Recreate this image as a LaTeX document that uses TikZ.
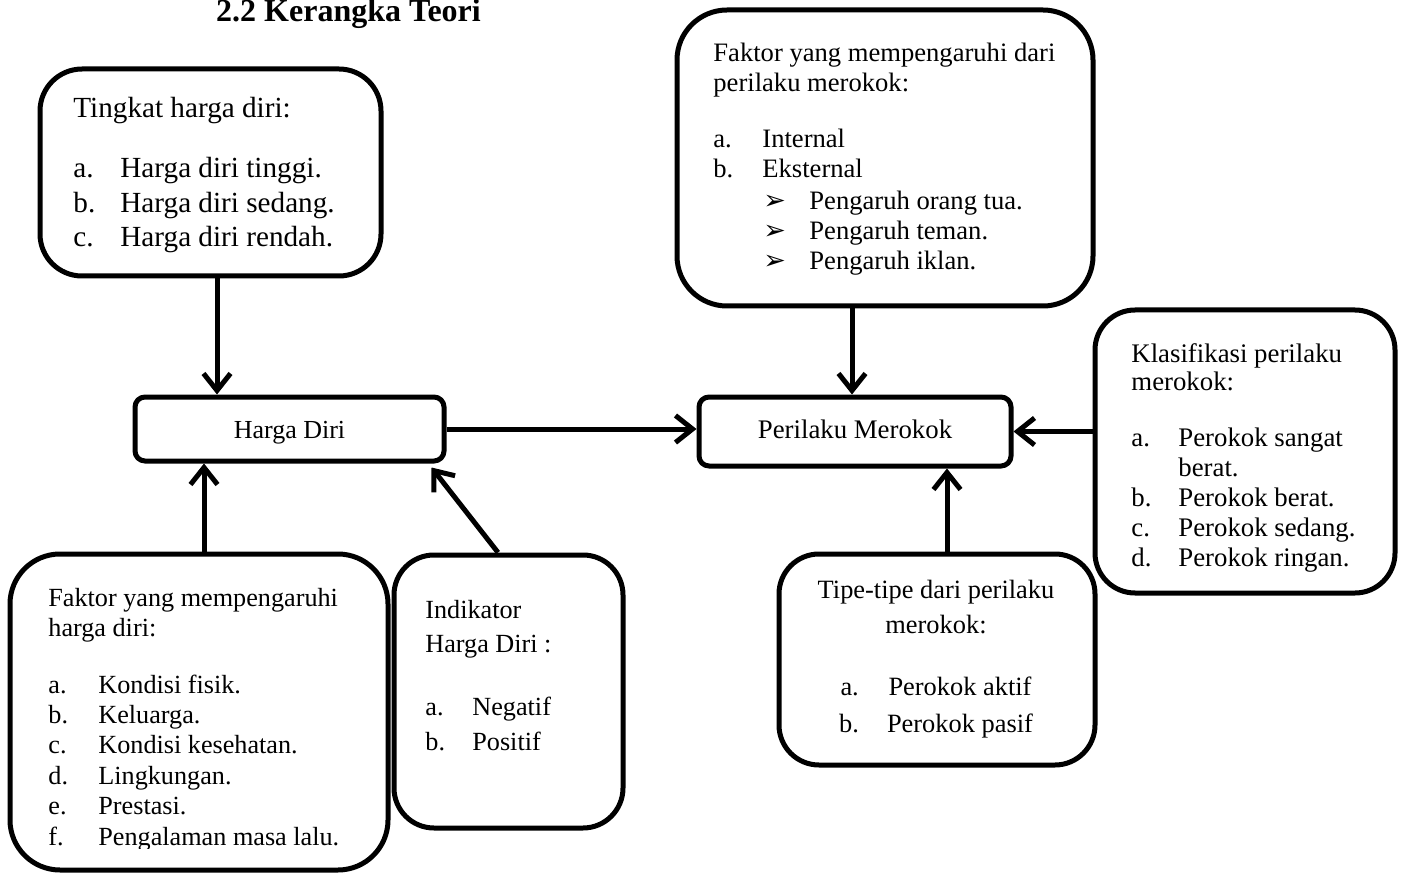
\documentclass[tikz,border=0pt]{standalone}
\usepackage{fontspec}
\setmainfont{Liberation Serif}
\newfontfamily\dejavu{DejaVu Sans}
\usetikzlibrary{arrows.meta}
\newcommand{\itemlab}[2]{\makebox[#1][l]{#2}}
\newcommand{\bul}{{\dejavu\fontsize{13.5pt}{13.5pt}\selectfont ➢}}
\tikzset{
  box/.style={draw, line width=2.5pt, rectangle, fill=white, inner sep=0pt},
  arr/.style={line width=2.5pt, -{Straight Barb[length=8.5pt,width=13.5pt]}},
  txt/.style={inner sep=0pt, align=left, anchor=base west},
}
\begin{document}
\begin{tikzpicture}[x=0.5pt,y=-0.5pt]
\useasboundingbox (0,0) rectangle (1403,877);
% title
\node[inner sep=0pt, anchor=base, font=\fontsize{16pt}{19pt}\selectfont\bfseries] (title) at (348.5,22) {2.2 Kerangka Teori};
% boxes
\node[box, minimum width=170.5pt, minimum height=103.5pt, rounded corners=21pt] (tk) at (210.5,172.5) {};
\node[box, minimum width=208pt, minimum height=148pt, rounded corners=25pt] (fm) at (885,158) {};
\node[box, minimum width=154.5pt, minimum height=32pt, rounded corners=5pt, text height=9pt, text depth=0pt, font=\fontsize{13pt}{15pt}\selectfont] (hd) at (289.5,429) {Harga Diri};
\node[box, minimum width=156pt, minimum height=34.5pt, rounded corners=5pt, text height=7pt, text depth=0pt, font=\fontsize{13.4pt}{15pt}\selectfont] (pm) at (855,431.5) {Perilaku Merokok};
\node[box, minimum width=150pt, minimum height=141.5pt, rounded corners=20pt] (kl) at (1245,451.5) {};
\node[box, minimum width=189pt, minimum height=158pt, rounded corners=25pt] (fh) at (199,712) {};
\node[box, minimum width=114.5pt, minimum height=136.5pt, rounded corners=20pt] (ind) at (508.5,691.5) {};
\node[box, minimum width=158pt, minimum height=105.5pt, rounded corners=20pt] (tp) at (937,659.5) {};
% connector x positions
\coordinate (ax1) at (217,0);
\coordinate (ax2) at (852,0);
\coordinate (ax3) at (204,0);
\coordinate (ax4) at (498,0);
\coordinate (ax5) at (947,0);
% arrows
\draw[arr] (tk.south -| ax1) -- (hd.north -| ax1);
\draw[arr] (hd.east) -- (pm.west |- hd.east);
\draw[arr] (fm.south -| ax2) -- (pm.north -| ax2);
\draw[arr] (kl.west |- pm.east) -- (pm.east);
\draw[arr] (fh.north -| ax3) -- (hd.south -| ax3);
\draw[arr] (ind.north -| ax4) -- ([xshift=-7.5pt,yshift=-2pt]hd.south east);
\draw[arr] (tp.north -| ax5) -- (pm.south -| ax5);
% texts (anchored at the baseline of their last line)
\node[txt, font=\fontsize{14.6pt}{17.25pt}\selectfont] (t1) at (73,247) {Tingkat harga diri:\\[12.75pt]
 \itemlab{23.5pt}{a.}Harga diri tinggi.\\
 \itemlab{23.5pt}{b.}Harga diri sedang.\\
 \itemlab{23.5pt}{c.}Harga diri rendah.};
\node[txt, font=\fontsize{13.3pt}{15pt}\selectfont] (t2) at (713,270) {Faktor yang mempengaruhi dari\\
 perilaku merokok:\\[13pt]
 \itemlab{24.5pt}{a.}Internal\\
 \itemlab{24.5pt}{b.}Eksternal\\[1pt]
 \hspace*{25pt}\itemlab{23pt}{\bul}Pengaruh orang tua.\\
 \hspace*{25pt}\itemlab{23pt}{\bul}Pengaruh teman.\\
 \hspace*{25pt}\itemlab{23pt}{\bul}Pengaruh iklan.};
\begin{scope}
\clip (1100,315) rectangle (1390,571);
\node[txt, font=\fontsize{13.4pt}{15pt}\selectfont] (t3) at (1131,566) {Klasifikasi perilaku\\[-1pt]
 merokok:\\[13pt]
 \itemlab{23.5pt}{a.}Perokok sangat\\
 \hspace*{23.5pt}berat.\\
 \itemlab{23.5pt}{b.}Perokok berat.\\
 \itemlab{23.5pt}{c.}Perokok sedang.\\
 \itemlab{23.5pt}{d.}Perokok ringan.};
\end{scope}
\begin{scope}
\clip (15,560) rectangle (385,848);
\node[txt, font=\fontsize{13.1pt}{15.2pt}\selectfont] (t4) at (48,845) {Faktor yang mempengaruhi\\
 harga diri:\\[13pt]
 \itemlab{25pt}{a.}Kondisi fisik.\\
 \itemlab{25pt}{b.}Keluarga.\\
 \itemlab{25pt}{c.}Kondisi kesehatan.\\
 \itemlab{25pt}{d.}Lingkungan.\\
 \itemlab{25pt}{e.}Prestasi.\\
 \itemlab{25pt}{f.}Pengalaman masa lalu.};
\end{scope}
\node[txt, font=\fontsize{13.1pt}{17.25pt}\selectfont] (t5) at (425,750) {Indikator\\
 Harga Diri :\\[14.25pt]
 \itemlab{23.5pt}{a.}Negatif\\
 \itemlab{23.5pt}{b.}Positif};
\node[inner sep=0pt, align=center, anchor=base, font=\fontsize{13.2pt}{18pt}\selectfont] (t6) at (936,732) {Tipe-tipe dari perilaku\\[-0.5pt]
 merokok:\\[13pt]
 \itemlab{24pt}{a.}Perokok aktif\\[0.5pt]
 \itemlab{24pt}{b.}Perokok pasif};
\end{tikzpicture}
\end{document}
